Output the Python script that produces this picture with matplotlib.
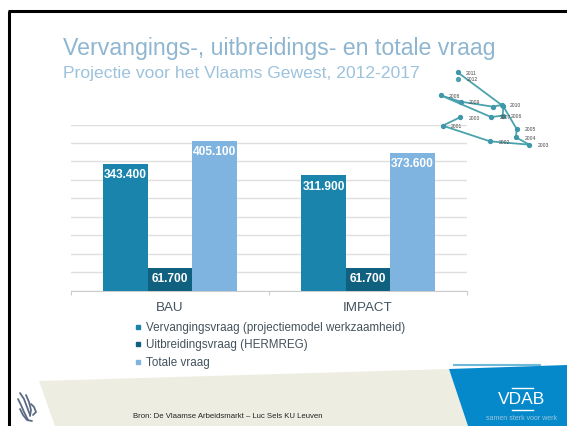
import numpy as np
import matplotlib
matplotlib.use("Agg")
import matplotlib.pyplot as plt
from matplotlib.patches import Polygon

plt.rcParams['font.family'] = ['Liberation Sans', 'DejaVu Sans']

categories = ['BAU', 'IMPACT']
vervanging = [343400, 311900]
uitbreiding = [61700, 61700]
totaal = [405100, 373600]
series_names = ['Vervangingsvraag (projectiemodel werkzaamheid)',
                'Uitbreidingsvraag (HERMREG)', 'Totale vraag']
colors = ['#1a84ad', '#10607f', '#7fb3e0']

loop_x = [120, 68, 210, 328, 288, 290, 250, 248, 213, 62, 122, 218, 245, 113]
loop_y = [190, 215, 262, 272, 250, 225, 157, 185, 189, 124, 143, 158, 153, 55]
loop_labels = ['2000', '2001', '2002', '2003', '2004', '2005', '', '2006', '2007',
               '2008', '2009', '', '2010', '2011']
end_x = [115]
end_y = [74]
end_label = ['2012']

W, H = 567, 427
fig = plt.figure(figsize=(W / 100, H / 100), dpi=100, facecolor='white')

# achtergrond in pixels
bg = fig.add_axes([0, 0, 1, 1])
bg.set_xlim(0, W)
bg.set_ylim(H, 0)
bg.axis('off')

bg.plot([9, 9], [12, H], color='black', lw=2.2, solid_capstyle='butt')
bg.plot([8, W], [12, 12], color='black', lw=2.2, solid_capstyle='butt')

bg.add_patch(Polygon([(39, 382), (449, 370), (468, H), (55, H)], color='#eeede2', lw=0))
bg.add_patch(Polygon([(449, 370), (W, 366), (W, H), (468, H)], color='#0689cb', lw=0))
bg.plot([454, 540], [365.5, 365.5], color='#6fb9d8', lw=1.5)

bg.text(63, 48, 'Vervangings-, uitbreidings- en totale vraag', fontsize=16.65,
        color='#8fb6d0', va='center')
bg.text(63, 73.5, 'Projectie voor het Vlaams Gewest, 2012-2017', fontsize=12.6,
        color='#9cc2dc', va='center')

# legenda
for i, name in enumerate(series_names):
    y = 328 + i * 17.3
    bg.plot([138], [y], marker='s', ms=3.4, color=colors[i], ls='none')
    bg.text(146, y, name, fontsize=8.4, color='#44525c', va='center')

bg.text(133, 417, 'Bron: De Vlaamse Arbeidsmarkt \u2013 Luc Sels KU Leuven', fontsize=5.6,
        color='#222222', va='center')

# VDAB logo
bg.text(521.5, 400, 'VDAB', fontsize=12.5, color='white', ha='center', va='center')
bg.plot([512, 533], [388.5, 388.5], color='white', lw=1)
bg.plot([512, 533], [411, 411], color='white', lw=1)
bg.text(521, 418.5, 'samen sterk voor werk', fontsize=5, color='#9cc6dc', ha='center', va='center')

# leeuw logo
for xs, ys in [([20, 24, 27, 30], [394, 400, 408, 416]),
               ([18, 21, 24, 28], [400, 406, 413, 421]),
               ([26, 29, 31, 30], [396, 403, 411, 417]),
               ([20, 23, 27, 32], [410, 416, 421, 422]),
               ([31, 34, 36, 33], [405, 408, 413, 416])]:
    bg.plot(xs, ys, color='#5c6b85', lw=1.3, solid_capstyle='round')

# hoofdgrafiek
ax = fig.add_axes([71 / W, 1 - 291.5 / H, 396 / W, 166 / H])
ax.patch.set_alpha(0)
x = np.arange(len(categories))
bw = 0.224
for i, vals in enumerate([vervanging, uitbreiding, totaal]):
    bars = ax.bar(x + (i - 1) * bw, vals, bw, color=colors[i], zorder=3)
    for b, v in zip(bars, vals):
        ax.annotate(f'{v:,}'.replace(',', '.'), (b.get_x() + b.get_width() / 2, v),
                    xytext=(0, -7.4), textcoords='offset points', ha='center', va='center',
                    color='white', fontsize=8.6, fontweight='bold', zorder=4)
ax.set_xlim(-0.5, 1.5)
ax.set_ylim(0, 450000)
ax.set_yticks(np.arange(0, 450001, 50000))
ax.set_yticklabels([])
ax.tick_params(axis='y', length=0)
ax.grid(axis='y', color='#dfdfdf', lw=1, zorder=0)
ax.set_xticks([-0.5, 0.5, 1.5])
ax.set_xticklabels([])
ax.tick_params(axis='x', length=3, color='#cccccc', width=0.8)
for name, pos in zip(categories, x):
    ax.annotate(name, (pos, 0), xytext=(0, -12), textcoords='offset points', ha='center',
                va='center', fontsize=9.6, color='#44525c')
for s in ['top', 'right', 'left']:
    ax.spines[s].set_visible(False)
ax.spines['bottom'].set_color('#cccccc')

# inzet
ins = fig.add_axes([420 / W, 1 - 165 / H, 147 / W, 110 / H])
ins.set_xlim(0, 441)
ins.set_ylim(330, 0)
ins.axis('off')
ins.plot(loop_x, loop_y, color='#4ba3ad', lw=1.3, marker='o', ms=2.8, mfc='#3f97aa', mec='#3f97aa')
ins.plot(end_x, end_y, color='#4ba3ad', marker='o', ms=2.8, ls='none')
for px, py, lab in zip(loop_x + end_x, loop_y + end_y, loop_labels + end_label):
    if lab:
        ins.annotate(lab, (px, py), xytext=(6, 0), textcoords='offset points', fontsize=3.6,
                     color='#444444', va='center')

fig.savefig('out.png', dpi=100)
